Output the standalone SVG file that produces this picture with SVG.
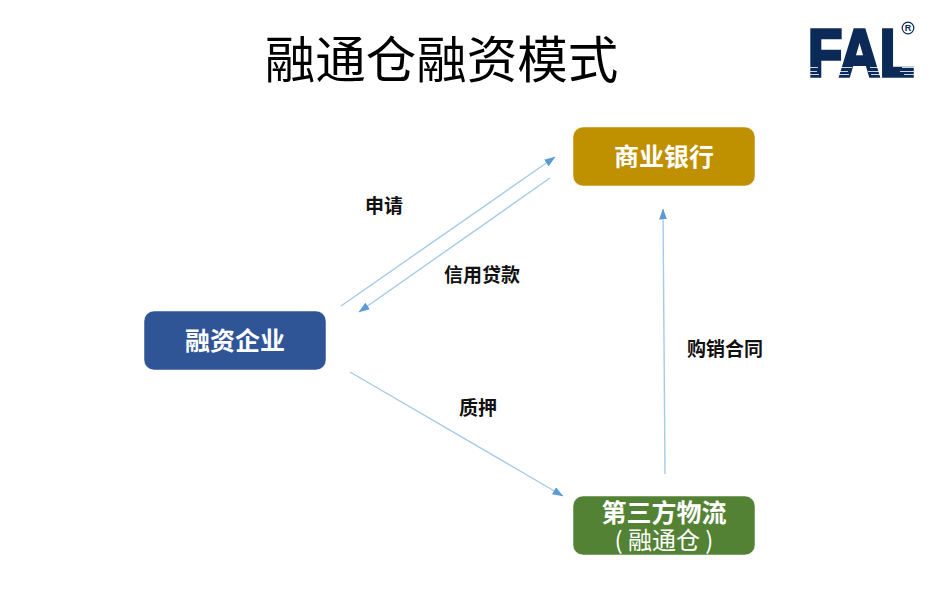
<svg xmlns="http://www.w3.org/2000/svg" width="950" height="602" viewBox="0 0 950 602">
<style>
.cjk{font-family:"Noto Sans CJK SC","Liberation Sans",sans-serif}
.box{stroke:#fff;stroke-opacity:.5;stroke-width:1}
.name{font-size:25px;font-weight:700;fill:#fff;text-anchor:middle}
.lab{font-size:19px;font-weight:700;fill:#111;text-anchor:middle}
.conn{fill:none;stroke:#a6cbe9;stroke-width:1.4;marker-end:url(#ah)}
.streak{fill:#fff;fill-opacity:.8}
</style>
<defs><marker id="ah" viewBox="0 0 11 8" refX="10.5" refY="4" markerWidth="11" markerHeight="8" markerUnits="userSpaceOnUse" orient="auto"><path d="M0 0L11 4L0 8Z" fill="#5b9bd5"/></marker></defs>
<rect width="950" height="602" fill="#fff"/>
<text id="title" class="cjk" x="441.500" y="77.500" font-size="50.500" text-anchor="middle" fill="#000">融通仓融资模式</text>
<g id="logo">
<text x="808" y="75.500" font-family="Liberation Sans,sans-serif" font-size="67" font-weight="700" fill="#0b2a57" stroke="#0b2a57" stroke-width="3.500" textLength="106" lengthAdjust="spacingAndGlyphs">FAL</text>
<path class="streak" d="M808 67h10v1h-10zM808 71h9v1h-9zM808 74h11v1h-11zM838 67h14v1h-14zM836 71h12v1h-12zM836 74h13v1h-13zM870 67h11v1h-11zM868 71h13v1h-13zM871 74h10v1h-10zM902 67h13v1h-13zM900 71h15v1h-15zM904 74h11v1h-11z"/>
<circle cx="908" cy="28" r="5.800" fill="none" stroke="#0b2a57" stroke-width="1.200"/>
<text x="908" y="31.300" font-family="Liberation Sans,sans-serif" font-size="9" font-weight="700" fill="#0b2a57" text-anchor="middle">R</text>
</g>
<g id="connectors">
<line class="conn" x1="341" y1="306" x2="555" y2="157"/>
<line class="conn" x1="550" y1="178" x2="359" y2="312"/>
<line class="conn" x1="350" y1="372" x2="563" y2="496"/>
<line class="conn" x1="665" y1="474" x2="663" y2="209"/>
</g>
<g id="node-bank"><rect class="box" x="573" y="127" width="182" height="59" rx="10" fill="#bf9000"/><text class="cjk name" x="664" y="166">商业银行</text></g>
<g id="node-firm"><rect class="box" x="144" y="311" width="182" height="59" rx="10" fill="#2f5597"/><text class="cjk name" x="235" y="350">融资企业</text></g>
<g id="node-3pl"><rect class="box" x="573" y="496" width="182" height="59" rx="10" fill="#548235"/><text class="cjk name" x="664" y="522">第三方物流</text><text class="cjk" x="664" y="549" font-size="24" fill="#fff" text-anchor="middle" xml:space="preserve">( 融通仓 )</text></g>
<g id="labels">
<text class="cjk lab" x="384" y="212.500">申请</text>
<text class="cjk lab" x="482" y="281.500">信用贷款</text>
<text class="cjk lab" x="478" y="414.500">质押</text>
<text class="cjk lab" x="725" y="355.500">购销合同</text>
</g>
</svg>
